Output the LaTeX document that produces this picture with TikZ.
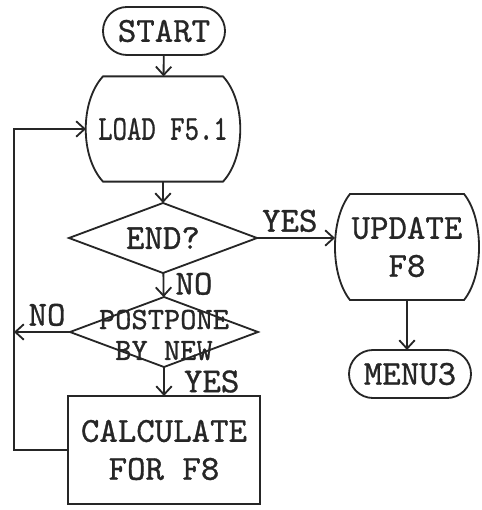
\documentclass[tikz,border=0pt]{standalone}
\usepackage{fontspec}
\newfontfamily\tw{lmmono10-regular}[Extension=.otf, FakeBold=0.9]
\usepackage{tikz}
\usetikzlibrary{arrows.meta, positioning, shapes.geometric, calc}

\begin{document}
\begin{tikzpicture}[
    x=0.025cm, y=-0.025cm,
    every node/.style={font=\fontsize{25}{27}\selectfont\tw, text=black!85, outer sep=0pt, inner sep=0pt, align=center},
    ln/.style={line width=1.3pt, black!85},
    term/.style={draw, ln, rounded corners=0.6cm, minimum width=3.05cm, minimum height=1.2cm},
    barrel/.style={minimum width=3.85cm, minimum height=2.63cm},
    dec/.style={draw, ln, diamond, minimum width=4.7cm, minimum height=1.75cm},
    calcbox/.style={draw, ln, minimum width=4.8cm, minimum height=2.7cm},
    arr/.style={ln, -{Straight Barb[length=6pt, width=11pt]}},
    lbl/.style={inner sep=0pt},
]
\useasboundingbox (0,0) rectangle (481,510);

% -- nodes of the left column --
\node[term] (start) at (164,31) {START};
\node[barrel] (load) at (163,129) {\scalebox{0.78}[1]{LOAD F5.1}};
\node[dec] (end) at (163,238) {};
\node at (end) {END?};
\node[dec] (post) at (164,332) {};
\node[font=\fontsize{22}{22}\selectfont\tw] at (164,335) {POSTPONE\\BY NEW};
\node[calcbox] (calc) at (164,450) {CALCULATE\\FOR F8};

% -- nodes of the right column --
\node[barrel, minimum width=3.6cm, minimum height=2.65cm] (upd) at (407,247) {UPDATE\\F8};
\node[term] (menu) at (410,374) {MENU3};

% -- barrel outlines --
\draw[ln] ($(load.north west)+(17,0)$) -- ($(load.north east)+(-17,0)$)
    .. controls ($(load.north east)+(6,25)$) and ($(load.south east)+(6,-25)$) .. ($(load.south east)+(-17,0)$)
    -- ($(load.south west)+(17,0)$)
    .. controls ($(load.south west)+(-6,-25)$) and ($(load.north west)+(-6,25)$) .. cycle;
\draw[ln] ($(upd.north west)+(15,0)$) -- ($(upd.north east)+(-15,0)$)
    .. controls ($(upd.north east)+(5,25)$) and ($(upd.south east)+(5,-25)$) .. ($(upd.south east)+(-15,0)$)
    -- ($(upd.south west)+(15,0)$)
    .. controls ($(upd.south west)+(-5,-25)$) and ($(upd.north west)+(-5,25)$) .. cycle;

% -- connectors --
\coordinate (loop) at (14,129);
\draw[arr] (start) -- (load);
\draw[arr] (load) -- (end);
\draw[arr] (end) -- node[lbl, right=0.3cm, pos=0.45] {NO} (post);
\draw[arr] (post) -- node[lbl, right=0.5cm, pos=0.5] {YES} (calc);
\draw[arr] (end.east) -- node[lbl, above=0.15cm, pos=0.42] {YES} (end.east -| upd.west);
\draw[arr] (post.west) -- node[lbl, above=0.15cm, pos=0.41] {NO} (post.west -| loop);
\draw[arr] (calc.west) -| (loop) -- (load.west);
\draw[arr] (upd.south) -- (upd.south |- menu.north);

\end{tikzpicture}
\end{document}
